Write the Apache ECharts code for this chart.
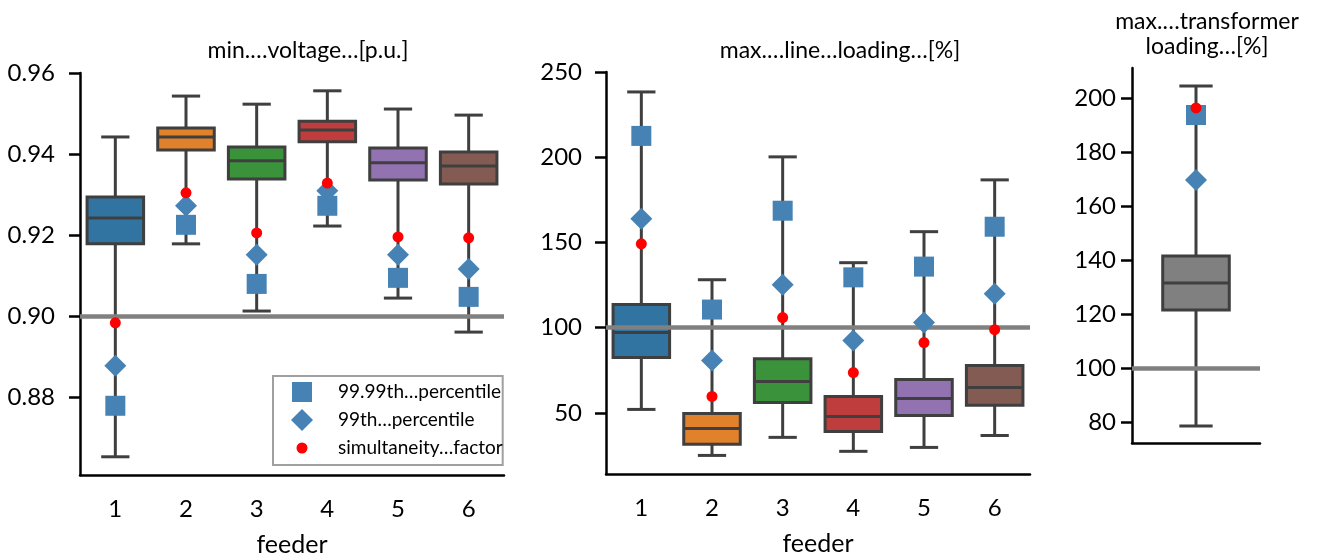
<!DOCTYPE html>
<html>
<head>
<meta charset="utf-8">
<script src="https://cdn.jsdelivr.net/npm/echarts@6/dist/echarts.min.js"></script>
<style>html,body{margin:0;background:#fff}#main{width:1320px;height:560px}</style>
</head>
<body>
<div id="main"></div>
<script>
// feeders
var feeders = ['1', '2', '3', '4', '5', '6'];

// min. voltage [p.u.] per feeder
var voltLow = [0.8652, 0.9178, 0.9012, 0.9222, 0.9044, 0.8960];
var voltQ1 = [0.9178, 0.9410, 0.9338, 0.9430, 0.9336, 0.9326];
var voltMed = [0.9242, 0.9442, 0.9383, 0.9459, 0.9378, 0.9370];
var voltQ3 = [0.9294, 0.9464, 0.9417, 0.9481, 0.9415, 0.9405];
var voltHigh = [0.9442, 0.9543, 0.9523, 0.9556, 0.9511, 0.9496];
var voltP9999 = [0.8778, 0.9225, 0.9079, 0.9272, 0.9094, 0.9047];
var voltP99 = [0.8877, 0.9272, 0.9151, 0.9309, 0.9151, 0.9116];
var voltSim = [0.8983, 0.9304, 0.9205, 0.9328, 0.9195, 0.9193];
var voltTicks = [0.88, 0.90, 0.92, 0.94, 0.96];

// max. line loading [%] per feeder
var lineLow = [52.0, 25.0, 35.6, 27.4, 29.7, 36.7];
var lineQ1 = [82.4, 31.5, 56.1, 39.1, 48.5, 54.4];
var lineMed = [97.1, 40.8, 68.4, 47.9, 58.4, 64.9];
var lineQ3 = [113.5, 49.6, 81.8, 59.6, 69.6, 77.8];
var lineHigh = [238.3, 128.1, 200.2, 138.1, 156.3, 186.7];
var lineP9999 = [212.5, 110.6, 168.6, 129.5, 135.8, 159.2];
var lineP99 = [163.9, 80.7, 125.2, 92.4, 103.0, 119.9];
var lineSim = [149.2, 59.6, 105.9, 73.6, 91.2, 98.8];
var lineTicks = [50, 100, 150, 200, 250];

// max. transformer loading [%]
var trafoLow = [78.5];
var trafoQ1 = [121.5];
var trafoMed = [131.5];
var trafoQ3 = [141.5];
var trafoHigh = [204.4];
var trafoP9999 = [193.7];
var trafoP99 = [169.6];
var trafoSim = [196.3];
var trafoTicks = [80, 100, 120, 140, 160, 180, 200];

var palette = ['#3274a1', '#e1812c', '#3a923a', '#c03d3e', '#9372b2', '#845b53'];
var FONT = 'Lato';
var EDGE = '#3f3f3f';

function boxData(lo, q1, md, q3, hi, colors) {
  return lo.map(function (v, i) {
    return { value: [i, lo[i], q1[i], md[i], q3[i], hi[i]], itemStyle: { color: colors[i] } };
  });
}
function pts(vals) {
  return vals.map(function (v, i) { return [i, v]; });
}

function boxItem(ratio) {
  return function (params, api) {
    var x = api.value(0);
    var band = api.size([1, 0])[0];
    var w = band * ratio;
    var cap = w / 2;
    var lo = api.coord([x, api.value(1)]);
    var q1 = api.coord([x, api.value(2)]);
    var md = api.coord([x, api.value(3)]);
    var q3 = api.coord([x, api.value(4)]);
    var hi = api.coord([x, api.value(5)]);
    var cx = lo[0];
    var ls = { stroke: EDGE, lineWidth: 3 };
    return {
      type: 'group',
      children: [
        { type: 'line', shape: { x1: cx, y1: lo[1], x2: cx, y2: q1[1] }, style: ls },
        { type: 'line', shape: { x1: cx, y1: q3[1], x2: cx, y2: hi[1] }, style: ls },
        { type: 'line', shape: { x1: cx - cap / 2, y1: lo[1], x2: cx + cap / 2, y2: lo[1] }, style: ls },
        { type: 'line', shape: { x1: cx - cap / 2, y1: hi[1], x2: cx + cap / 2, y2: hi[1] }, style: ls },
        { type: 'rect', shape: { x: cx - w / 2, y: q3[1], width: w, height: q1[1] - q3[1] },
          style: { fill: api.visual('color'), stroke: EDGE, lineWidth: 3 } },
        { type: 'line', shape: { x1: cx - w / 2, y1: md[1], x2: cx + w / 2, y2: md[1] }, style: ls }
      ]
    };
  };
}

function yAxisOf(idx, min, max, ticks, fmt, margin) {
  return {
    gridIndex: idx, type: 'value', min: min, max: max,
    axisLine: { show: true, lineStyle: { color: '#000', width: 2.5 } },
    axisTick: { show: true, length: 11, customValues: ticks, lineStyle: { color: '#000', width: 2.5 } },
    axisLabel: { customValues: ticks, formatter: fmt, margin: margin, color: '#000', fontSize: 24, fontFamily: FONT },
    splitLine: { show: false }
  };
}
function xAxisOf(idx, cats, name) {
  return {
    gridIndex: idx, type: 'category', data: cats,
    axisLine: { lineStyle: { color: '#000', width: 2.5 } },
    axisTick: { show: false },
    axisLabel: { show: cats.length > 1, color: '#000', fontSize: 24, fontFamily: FONT, margin: 22 },
    name: name, nameLocation: 'middle', nameGap: 57,
    nameTextStyle: { color: '#000', fontSize: 25, fontFamily: FONT }
  };
}
function limitSeries(idx, v) {
  return {
    type: 'line', xAxisIndex: idx, yAxisIndex: idx, data: [], z: 3,
    markLine: { silent: true, symbol: 'none', label: { show: false },
      lineStyle: { color: '#808080', width: 4.5, type: 'solid' }, data: [{ yAxis: v }] }
  };
}
function markerSeries(idx, p9999, p99, sim) {
  return [
    { name: '99.99th…percentile', type: 'scatter', xAxisIndex: idx, yAxisIndex: idx, z: 4,
      symbol: 'rect', symbolSize: 20, itemStyle: { color: '#4682b4', opacity: 1 }, data: pts(p9999) },
    { name: '99th…percentile', type: 'scatter', xAxisIndex: idx, yAxisIndex: idx, z: 5,
      symbol: 'diamond', symbolSize: 22, itemStyle: { color: '#4682b4', opacity: 1 }, data: pts(p99) },
    { name: 'simultaneity…factor', type: 'scatter', xAxisIndex: idx, yAxisIndex: idx, z: 6,
      symbol: 'circle', symbolSize: 11, itemStyle: { color: '#ff0000', opacity: 1 }, data: pts(sim) }
  ];
}

var titleStyle = { fontSize: 23, fontWeight: 'normal', color: '#000', fontFamily: FONT, lineHeight: 25 };

var chart = echarts.init(document.getElementById('main'));
chart.setOption({
  animation: false,
  backgroundColor: '#fff',
  title: [
    { text: 'min.…voltage…[p.u.]', left: 303, top: 33, textAlign: 'center', textStyle: titleStyle },
    { text: 'max.…line…loading…[%]', left: 835, top: 33, textAlign: 'center', textStyle: titleStyle },
    { text: 'max.…transformer\nloading…[%]', left: 1202, top: 4, textAlign: 'center', textStyle: titleStyle }
  ],
  grid: [
    { left: 80, top: 73, width: 424, height: 402, outerBoundsMode: 'none' },
    { left: 606, top: 72, width: 424, height: 402, outerBoundsMode: 'none' },
    { left: 1132, top: 68, width: 128, height: 375, outerBoundsMode: 'none' }
  ],
  xAxis: [
    xAxisOf(0, feeders, 'feeder'),
    xAxisOf(1, feeders, 'feeder'),
    xAxisOf(2, [''], '')
  ],
  yAxis: [
    yAxisOf(0, 0.8607, 0.96, voltTicks, function (v) { return v.toFixed(2); }, 25),
    yAxisOf(1, 14.1, 250, lineTicks, function (v) { return String(v); }, 24),
    yAxisOf(2, 72.2, 211.1, trafoTicks, function (v) { return String(v); }, 16)
  ],
  legend: {
    orient: 'vertical', left: 273, top: 376, selectedMode: false,
    backgroundColor: '#fff', borderColor: '#a0a0a0', borderWidth: 2, borderRadius: 0,
    padding: [5, 0, 6, 14], itemGap: 6, itemWidth: 46, itemHeight: 22,
    textStyle: { fontSize: 19, fontFamily: FONT, color: '#000' },
    data: [
      { name: '99.99th…percentile', icon: 'path://M0,0M46,22M5,1h20v20h-20z' },
      { name: '99th…percentile', icon: 'path://M0,0M46,22M4,11L15,0L26,11L15,22z' },
      { name: 'simultaneity…factor', icon: 'path://M0,0M46,22M9.5,11A5.5,5.5 0 1 1 20.5,11A5.5,5.5 0 1 1 9.5,11z' }
    ]
  },
  series: [
    { type: 'custom', xAxisIndex: 0, yAxisIndex: 0, z: 2, renderItem: boxItem(0.8),
      data: boxData(voltLow, voltQ1, voltMed, voltQ3, voltHigh, palette) },
    { type: 'custom', xAxisIndex: 1, yAxisIndex: 1, z: 2, renderItem: boxItem(0.8),
      data: boxData(lineLow, lineQ1, lineMed, lineQ3, lineHigh, palette) },
    { type: 'custom', xAxisIndex: 2, yAxisIndex: 2, z: 2, renderItem: boxItem(0.52),
      data: boxData(trafoLow, trafoQ1, trafoMed, trafoQ3, trafoHigh, ['#808080']) },
    limitSeries(0, 0.90),
    limitSeries(1, 100),
    limitSeries(2, 100)
  ].concat(markerSeries(0, voltP9999, voltP99, voltSim))
   .concat(markerSeries(1, lineP9999, lineP99, lineSim))
   .concat(markerSeries(2, trafoP9999, trafoP99, trafoSim))
});
</script>
</body>
</html>
